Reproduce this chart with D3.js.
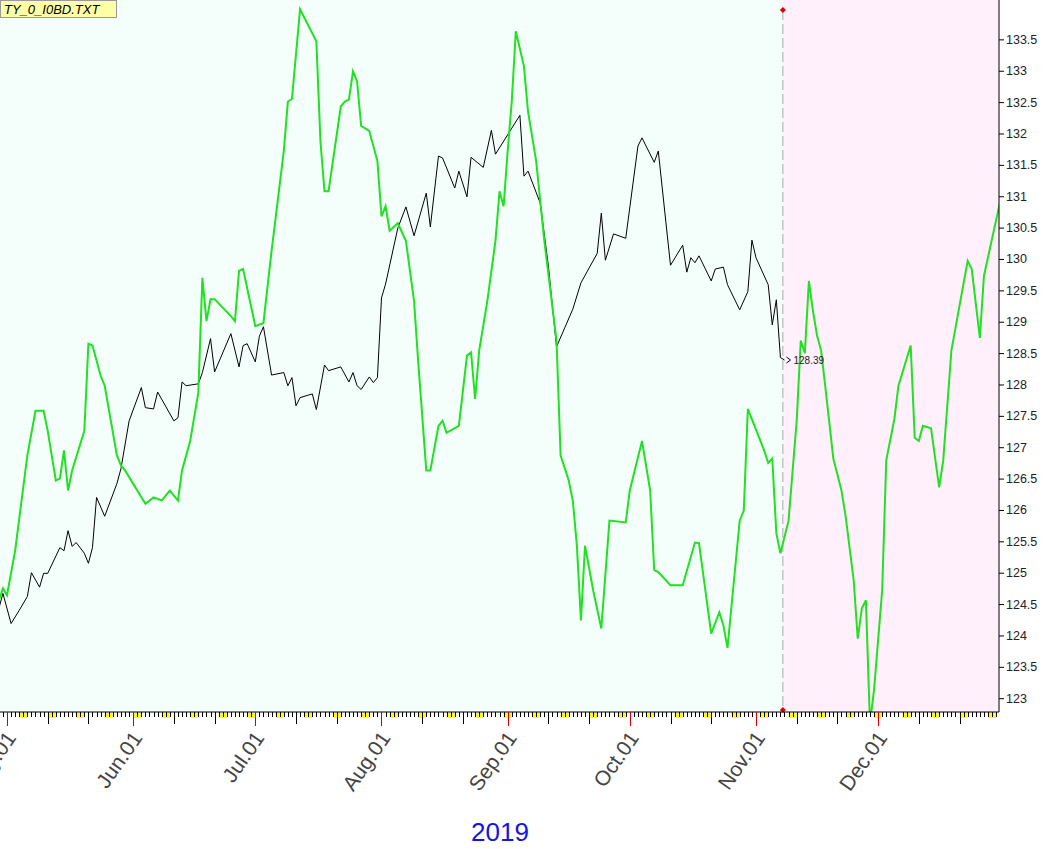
<!DOCTYPE html>
<html><head><meta charset="utf-8">
<script src="https://cdn.jsdelivr.net/npm/d3@7"></script>
<style>body{margin:0;background:#fff}svg{display:block}</style>
</head><body><svg id="c" width="1063" height="849"></svg>
<script>
// day offsets counted from 2019-05-01
const blackDays=[-2,-1,1,3,5,6,8,9,10,13,14,15,16,17,19,20,21,22,24,27,28,30,33,34,36,37,41,42,43,44,47,48,50,51,55,57,58,59,61,62,63,65,68,69,70,71,72,75,76,78,79,82,84,85,86,87,89,90,91,92,93,96,98,100,103,104,106,107,110,111,113,114,117,119,120,126,127,128,131,133,135,139,141,145,146,147,149,152,155,156,159,160,163,166,167,168,169,170,173,174,176,177,180,182,183,184,187,188,189,190,191];
const blackVals=[124.43,124.67,124.19,124.40,124.62,125.00,124.77,124.99,124.99,125.40,125.35,125.67,125.42,125.48,125.31,125.15,125.40,126.20,125.90,126.42,126.66,127.42,127.95,127.63,127.61,127.88,127.42,127.47,128.04,127.98,128.01,128.19,128.73,128.20,128.81,128.28,128.62,128.65,128.36,128.77,128.92,128.15,128.19,127.98,128.11,127.66,127.79,127.85,127.60,128.31,128.22,128.28,128.04,128.19,127.98,127.92,128.12,128.03,128.11,129.38,129.60,130.49,130.83,130.37,131.05,130.51,131.64,131.61,131.13,131.40,130.99,131.62,131.46,132.05,131.67,132.29,131.32,131.40,130.89,129.89,128.60,129.20,129.62,130.09,130.73,129.98,130.40,130.33,131.80,131.93,131.54,131.72,129.90,130.22,129.79,130.02,129.94,130.05,129.65,129.84,129.87,129.59,129.19,129.48,130.30,130.02,129.59,128.95,129.35,128.43,128.39];
const greenDays=[-2,-1,0,2,5,7,9,10,12,13,14,15,16,19,20,21,23,24,27,28,29,34,36,38,40,42,43,45,47,48,49,50,51,55,56,57,58,61,63,65,68,69,70,72,76,77,78,79,82,83,84,85,86,87,89,91,92,93,94,96,98,100,101,103,104,106,107,108,111,113,114,115,116,118,120,121,122,123,124,125,127,128,130,132,135,136,138,139,140,141,142,144,146,148,152,153,156,158,159,160,163,166,169,170,173,175,176,177,180,181,182,186,187,188,189,190,192,194,195,196,197,198,199,200,201,203,205,206,208,209,210,211,212,213,215,216,218,219,222,223,224,225,227,229,230,232,236,237,239,240,244];
const greenVals=[124.56,124.75,124.64,125.35,126.87,127.58,127.58,127.26,126.47,126.50,126.95,126.31,126.63,127.26,128.65,128.62,128.14,127.98,126.87,126.71,126.63,126.10,126.20,126.15,126.31,126.15,126.63,127.10,127.87,129.70,129.01,129.36,129.36,129.09,129.01,129.81,129.84,128.93,128.98,130.13,131.72,132.51,132.55,133.98,133.47,131.88,131.08,131.08,132.43,132.51,132.54,132.99,132.83,132.12,132.04,131.56,130.68,130.84,130.45,130.57,130.29,129.33,128.38,126.63,126.63,127.34,127.42,127.23,127.34,128.46,128.51,127.77,128.54,129.33,130.29,131.08,130.84,131.72,132.51,133.63,133.07,132.35,131.56,130.29,128.70,126.87,126.47,126.15,125.43,124.24,125.43,124.72,124.11,125.83,125.80,126.31,127.10,126.31,125.04,125.01,124.80,124.80,125.48,125.47,124.03,124.37,124.16,123.80,125.83,125.99,127.61,126.95,126.75,126.82,125.63,125.31,125.83,127.42,128.70,128.50,129.65,129.17,128.78,128.54,127.98,126.82,126.31,125.91,124.88,123.95,124.43,124.56,122.60,123.13,124.72,126.79,127.45,127.98,128.62,127.15,127.10,127.34,127.30,126.36,126.79,128.54,129.97,129.84,128.74,129.73,130.92];
const yTicks=[123,123.5,124,124.5,125,125.5,126,126.5,127,127.5,128,128.5,129,129.5,130,130.5,131,131.5,132,132.5,133,133.5];
const monthLabels=["May.01","Jun.01","Jul.01","Aug.01","Sep.01","Oct.01","Nov.01","Dec.01"];
const lastLabel="128.39", title="TY_0_I0BD.TXT", yearLabel="2019";
const splitDay=190.6;

const base=new Date(2019,4,1);
const dt=d=>new Date(base.getTime()+d*864e5);
const L=0,R=999,T=8,B=712;
const x=d3.scaleTime().domain([dt(-1.72),dt(243.7)]).range([L,R]);
const y=d3.scaleLinear().domain([122.78,134.0]).range([B,T]);
const svg=d3.select("#c");
svg.append("defs").append("clipPath").attr("id","cp").append("rect").attr("x",L).attr("y",T-2).attr("width",R-L).attr("height",B-T+2);
const sx=x(dt(splitDay));
svg.append("rect").attr("x",L).attr("y",0).attr("width",sx-L).attr("height",B).attr("fill","#f4fffc");
svg.append("rect").attr("x",sx).attr("y",0).attr("width",R-sx).attr("height",B).attr("fill","#fff0fb");
svg.append("line").attr("x1",sx).attr("x2",sx).attr("y1",10).attr("y2",B-2).attr("stroke","#aaa").attr("stroke-dasharray","10,4");
[10,B-2].forEach(yy=>svg.append("path").attr("d",`M${sx},${yy-3}L${sx+3},${yy}L${sx},${yy+3}L${sx-3},${yy}Z`).attr("fill","#d00"));

const line=(ds,vs)=>d3.line().x((d,i)=>x(dt(ds[i]))).y(d=>y(d))(vs);
const g=svg.append("g").attr("clip-path","url(#cp)");
g.append("path").attr("d",line(blackDays,blackVals)).attr("fill","none").attr("stroke","#000").attr("stroke-width",1);
g.append("path").attr("d",line(greenDays,greenVals)).attr("fill","none").attr("stroke","#22e022").attr("stroke-width",2);

const lx=x(dt(191)), ly=y(+lastLabel);
svg.append("path").attr("d",`M${lx+2},${ly-3}L${lx+6},${ly}L${lx+2},${ly+3}`).attr("fill","none").attr("stroke","#000");
svg.append("text").attr("x",lx+9).attr("y",ly+4).attr("font-family","Arial, Liberation Sans").attr("font-size",10).attr("fill","#222").text(lastLabel);

const ya=d3.axisRight(y).tickValues(yTicks).tickSize(5).tickFormat(d=>d3.format("")(d));
const yg=svg.append("g").attr("transform",`translate(${R},0)`).call(ya);
yg.select(".domain").attr("d",`M0,0V${B}`).attr("stroke","#000");
yg.selectAll("text").attr("font-family","Arial, Liberation Sans").attr("font-size",12.5).attr("fill","#222").attr("x",7);

const ax=svg.append("g");
ax.append("line").attr("x1",L).attr("x2",R).attr("y1",B).attr("y2",B).attr("stroke","#000");
const days=d3.timeDay.range(dt(-1),dt(244));
days.forEach(d=>{
  const xx=x(d), dow=d.getDay();
  if(dow===6) ax.append("rect").attr("x",xx).attr("y",B+1).attr("width",x(d3.timeDay.offset(d,2))-xx).attr("height",5).attr("fill","#ffff00");
});
days.forEach(d=>{
  const xx=Math.round(x(d))+0.5, dom=d.getDate();
  let len=5,col="#000";
  if(dom===1){len=14;col="#c00";} else if(dom===11||dom===21){len=12;}
  ax.append("line").attr("x1",xx).attr("x2",xx).attr("y1",B).attr("y2",B+len).attr("stroke",col);
});
monthLabels.forEach((m,i)=>{
  const xx=x(new Date(2019,4+i,1));
  ax.append("text").attr("transform",`translate(${xx+10},${B+26}) rotate(-55)`).attr("text-anchor","end")
    .attr("font-family","Arial, Liberation Sans").attr("font-size",21).attr("fill","#444").text(m);
});
svg.append("text").attr("x",500).attr("y",841).attr("text-anchor","middle").attr("font-family","Arial, Liberation Sans").attr("font-size",26).attr("fill","#1515e0").text(yearLabel);

svg.append("rect").attr("x",0.5).attr("y",0.5).attr("width",116).attr("height",17).attr("fill","#ffffa8").attr("stroke","#999");
svg.append("text").attr("x",4).attr("y",14).attr("font-family","Arial, Liberation Sans").attr("font-style","italic").attr("font-size",13).attr("fill","#000").text(title);
</script></body></html>
